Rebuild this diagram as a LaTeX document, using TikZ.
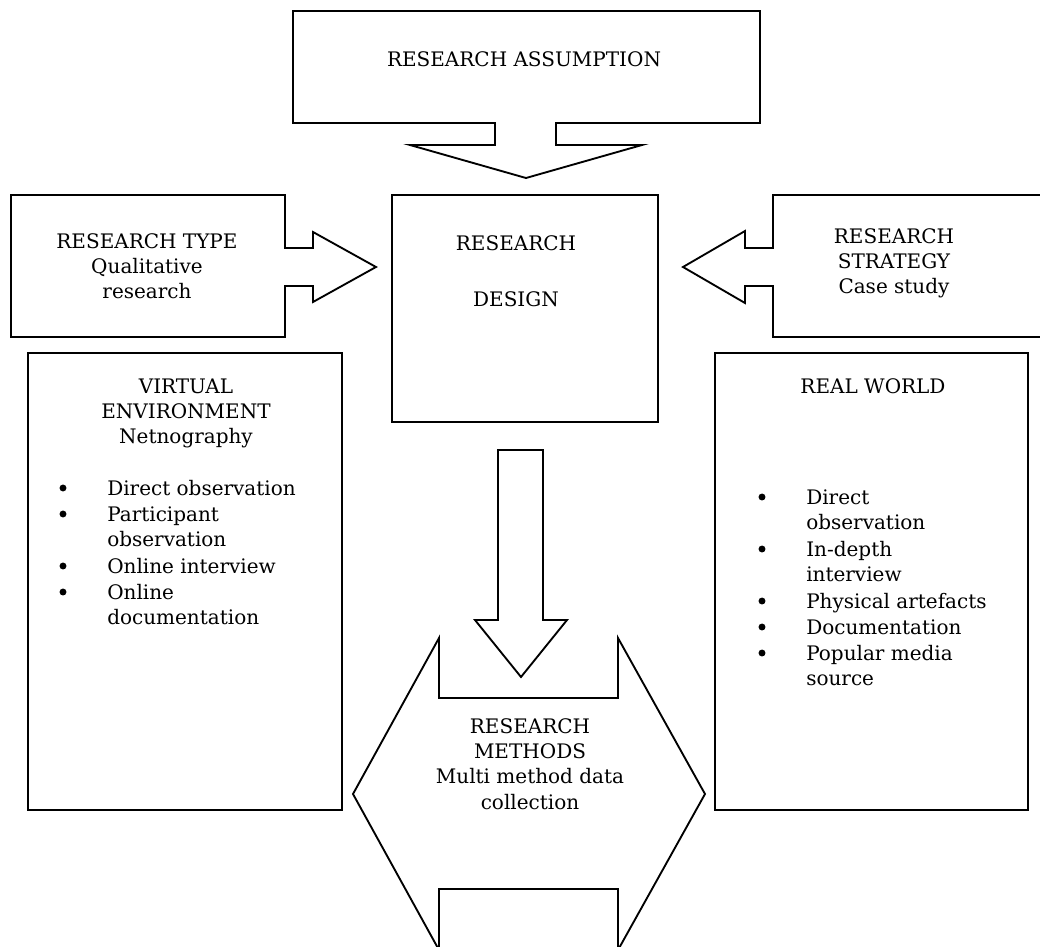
\documentclass[tikz,border=0pt]{standalone}
\usepackage{fontspec}
\setmainfont{DejaVu Serif}
\newcommand\txtblock[2][c]{\begin{tabular}[t]{@{}#1@{}}#2\end{tabular}}
\begin{document}
\begin{tikzpicture}[x=0.75pt,y=-0.75pt,
  shape line/.style={draw=black,line width=1.4pt,line join=miter},
  label text/.style={anchor=base,inner sep=0pt,font=\fontsize{15}{19.1}\selectfont},
  item text/.style={anchor=base west,inner sep=0pt,font=\fontsize{15}{19.1}\selectfont},
  dot/.style={fill=black,circle,inner sep=0pt,minimum size=5.2pt}]
\useasboundingbox (0,0) rectangle (1040,947);

% research assumption callout pointing down
\draw[shape line] (293,11) -- (760,11) -- (760,123) -- (556,123) -- (556,145)
  -- (642,145) -- (526,178) -- (410,145) -- (495,145) -- (495,123) -- (293,123) -- cycle;
\node[label text] (assump) at (524,66) {RESEARCH ASSUMPTION};

% research type callout pointing right
\draw[shape line] (11,195) -- (285,195) -- (285,248) -- (313,248) -- (313,232)
  -- (376,267) -- (313,302) -- (313,286) -- (285,286) -- (285,337) -- (11,337) -- cycle;
\node[label text] (rtype) at (147,248) {\txtblock{RESEARCH TYPE\\Qualitative\\research}};

% research strategy callout pointing left (runs off the right edge)
\draw[shape line] (1046,195) -- (773,195) -- (773,248) -- (745,248) -- (745,231)
  -- (683,267) -- (745,303) -- (745,286) -- (773,286) -- (773,337) -- (1046,337);
\node[label text] (rstrat) at (894,243) {\txtblock{RESEARCH\\STRATEGY\\Case study}};

% research design box
\draw[shape line] (392,195) rectangle (658,422);
\node[label text] (design1) at (516,250) {RESEARCH};
\node[label text] (design2) at (516,306) {DESIGN};

% arrow from design down to methods
\draw[shape line] (498,450) -- (543,450) -- (543,620) -- (567,620) -- (521,677)
  -- (475,620) -- (498,620) -- cycle;

% virtual environment box
\draw[shape line] (28,353) rectangle (342,810);
\node[label text] (virt) at (186,393) {\txtblock{VIRTUAL\\ENVIRONMENT\\Netnography}};
\foreach \yy in {495,521,573,599} \node[dot] at (63,\yy-7) {};
\node[item text] (v1) at (107,495) {Direct observation};
\node[item text] (v2) at (107,521) {\txtblock[l]{Participant\\observation}};
\node[item text] (v3) at (107,573) {Online interview};
\node[item text] (v4) at (107,599) {\txtblock[l]{Online\\documentation}};

% real world box
\draw[shape line] (715,353) rectangle (1028,810);
\node[label text] (real) at (873,393) {REAL WORLD};
\foreach \yy in {504,556,608,634,660} \node[dot] at (762,\yy-7) {};
\node[item text] (r1) at (806,504) {\txtblock[l]{Direct\\observation}};
\node[item text] (r2) at (806,556) {\txtblock[l]{In-depth\\interview}};
\node[item text] (r3) at (806,608) {Physical artefacts};
\node[item text] (r4) at (806,634) {Documentation};
\node[item text] (r5) at (806,660) {\txtblock[l]{Popular media\\source}};

% research methods double arrow
\draw[shape line] (439,638) -- (439,698) -- (618,698) -- (618,638) -- (705,794)
  -- (618,950) -- (618,889) -- (439,889) -- (439,950) -- (353,794) -- cycle;
\node[label text] (meth) at (530,733) {\txtblock{RESEARCH\\METHODS\\Multi method data\\collection}};
\end{tikzpicture}
\end{document}
